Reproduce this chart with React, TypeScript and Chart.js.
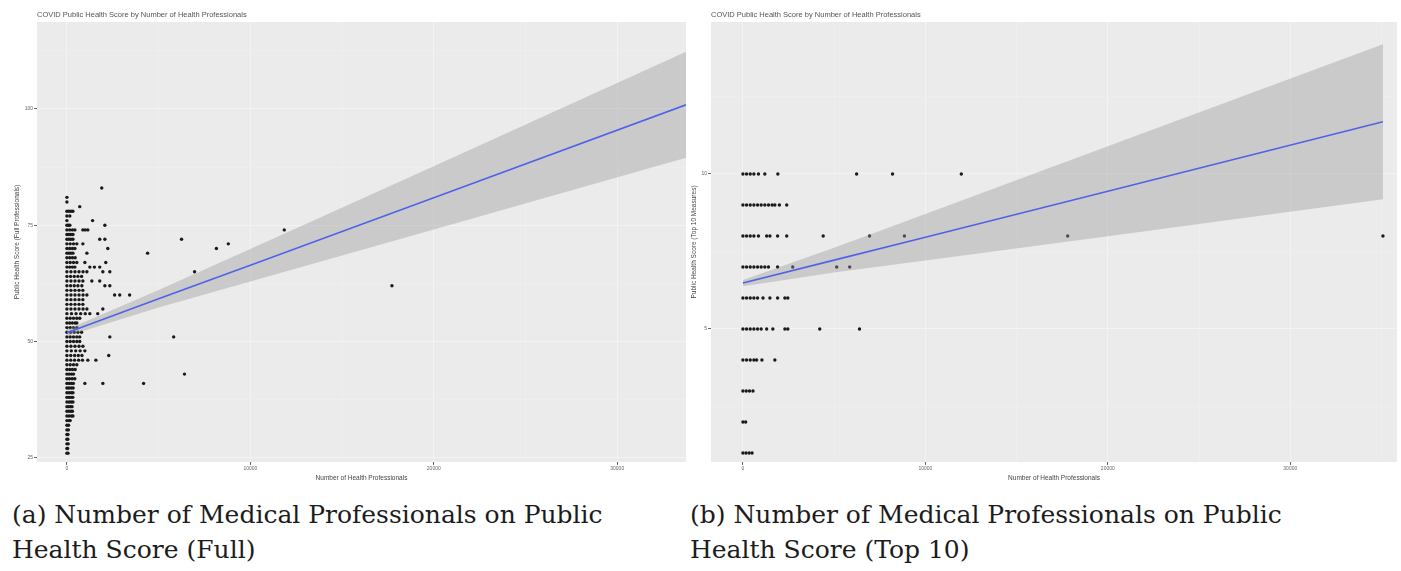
import React, { useEffect, useRef } from "react";
import { Chart, registerables } from "chart.js";
Chart.register(...registerables);

const chartTitle = "COVID Public Health Score by Number of Health Professionals";
const xAxisTitle = "Number of Health Professionals";
const fullYTitle = "Public Health Score (Full Professionals)";
const topYTitle = "Public Health Score (Top 10 Measures)";
const captionA = ["(a) Number of Medical Professionals on Public", "Health Score (Full)"];
const captionB = ["(b) Number of Medical Professionals on Public", "Health Score (Top 10)"];

const xMajorTicks = [0, 10000, 20000, 30000];
const xMinorTicks = [5000, 15000, 25000, 35000];
const fullYMajor = [25, 50, 75, 100];
const fullYMinor = [37.5, 62.5, 87.5, 112.5];
const topYMajor = [5, 10];
const topYMinor = [2.5, 7.5, 12.5];

// score -> number of health professionals (Full score)
const fullRows: [number, number[]][] = [
  [26, [0, 60]],
  [27, [0, 40]],
  [28, [0, 70]],
  [29, [0, 50]],
  [30, [0, 60]],
  [31, [0, 80]],
  [32, [0, 90]],
  [33, [0, 120, 180]],
  [34, [0, 120, 250, 330]],
  [35, [0, 110, 220, 300]],
  [36, [0, 100, 200, 280]],
  [37, [0, 120, 230, 330]],
  [38, [0, 110, 220, 320]],
  [39, [0, 120, 240, 330]],
  [40, [0, 110, 230, 340]],
  [41, [0, 130, 250, 350, 980, 1960, 4180]],
  [42, [0, 140, 290, 430]],
  [43, [0, 120, 250, 360, 6410]],
  [44, [0, 150, 300, 450]],
  [45, [0, 180, 360, 540]],
  [46, [0, 210, 420, 640, 850, 1140, 1580]],
  [47, [0, 210, 420, 620, 820, 2280]],
  [48, [0, 240, 480, 720, 980]],
  [49, [0, 220, 440, 660, 870]],
  [50, [0, 180, 360, 540, 700]],
  [51, [0, 180, 360, 540, 700, 2340, 5820]],
  [52, [0, 200, 400, 600, 800]],
  [53, [0, 180, 360, 540]],
  [54, [0, 150, 300, 450, 540]],
  [55, [0, 180, 360, 540, 700]],
  [56, [0, 250, 500, 750, 1000, 1250, 1680]],
  [57, [0, 220, 440, 660, 880, 1090, 1960]],
  [58, [0, 220, 440, 660, 870]],
  [59, [0, 220, 440, 660, 870]],
  [60, [0, 220, 440, 660, 880, 1090, 2600, 2880, 3420]],
  [61, [0, 220, 440, 660, 870]],
  [62, [0, 200, 400, 600, 815, 2070, 2340, 17720]],
  [63, [0, 220, 440, 660, 870, 1360, 1790]],
  [64, [0, 200, 400, 600, 800]],
  [65, [0, 220, 440, 660, 880, 1090, 1960, 2340, 6960]],
  [66, [0, 150, 300, 435, 1250, 1500, 1790]],
  [67, [0, 180, 360, 540, 980, 2120]],
  [68, [0, 150, 300, 450]],
  [69, [0, 110, 220, 330, 1090, 4400]],
  [70, [0, 150, 300, 435, 2230, 8150]],
  [71, [0, 180, 360, 540, 870, 8800]],
  [72, [0, 110, 220, 330, 1790, 2070, 6250]],
  [73, [0, 110, 220, 330]],
  [74, [0, 150, 300, 435, 870, 1000, 1140, 11850]],
  [75, [0, 80, 160, 2070]],
  [76, [0, 1400]],
  [77, [0, 160]],
  [78, [0, 110, 220, 326]],
  [79, [700]],
  [80, [0]],
  [81, [0]],
  [83, [1900]],
];

// score -> number of health professionals (Top 10 score)
const topRows: [number, number[]][] = [
  [10, [0, 200, 400, 600, 850, 1200, 1915, 6230, 8200, 11970]],
  [9, [0, 200, 400, 600, 800, 1000, 1200, 1400, 1600, 1750, 2000, 2400]],
  [8, [0, 200, 400, 600, 850, 1300, 1480, 1900, 2400, 4400, 6940, 8850, 17800, 35080]],
  [7, [0, 200, 400, 600, 800, 1000, 1200, 1400, 1900, 2730, 5140, 5850]],
  [6, [0, 200, 400, 600, 800, 1100, 1480, 1900, 2300, 2460]],
  [5, [0, 200, 400, 600, 800, 1000, 1300, 1640, 2300, 2460, 4210, 6390]],
  [4, [0, 200, 400, 600, 750, 1040, 1750]],
  [3, [0, 180, 360, 550]],
  [2, [0, 150]],
  [1, [0, 170, 340, 500]],
];

const fullFitX = [0, 5000, 10000, 20000, 33750];
const fullFit = [51.9, 59.2, 66.4, 80.9, 100.9];
const fullUpper = [52.6, 61.1, 69.9, 87.7, 112.3];
const fullLower = [51.2, 57.3, 62.9, 74.1, 89.5];

const topFitX = [0, 5000, 10000, 20000, 35080];
const topFit = [6.48, 7.22, 7.96, 9.44, 11.68];
const topUpper = [6.58, 7.62, 8.71, 10.89, 14.18];
const topLower = [6.38, 6.82, 7.21, 7.99, 9.18];

type PanelSpec = {
  rows: [number, number[]][];
  fitX: number[];
  fit: number[];
  upper: number[];
  lower: number[];
  xMin: number;
  xMax: number;
  yMin: number;
  yMax: number;
  yMajor: number[];
  yMinor: number[];
  yTitle: string;
  yWidth: number;
  yTitlePad: number;
};

const FONT = "'Liberation Sans', Arial, sans-serif";

function makeConfig(p: PanelSpec): any {
  const pts: { x: number; y: number }[] = [];
  p.rows.forEach(([score, xs]) => xs.forEach((x) => pts.push({ x, y: score })));
  const zip = (xs: number[], ys: number[]) => xs.map((x, i) => ({ x, y: ys[i] }));
  const isIn = (arr: number[], v: number) => arr.some((a) => Math.abs(a - v) < 1e-6);

  const tickSetter = (major: number[], minor: number[], min: number, max: number) => (scale: any) => {
    scale.ticks = [...major, ...minor]
      .filter((v) => v >= min && v <= max)
      .sort((a, b) => a - b)
      .map((v) => ({ value: v }));
  };

  const gridFor = (major: number[]) => ({
    color: (ctx: any) => (ctx.tick && isIn(major, ctx.tick.value) ? "#f3f3f3" : "#eeeeee"),
    tickColor: (ctx: any) => (ctx.tick && isIn(major, ctx.tick.value) ? "#666" : "rgba(0,0,0,0)"),
    lineWidth: 1,
    drawTicks: true,
    tickLength: 3,
  });

  const panelPlugin = {
    id: "panelBg",
    beforeDraw(chart: any) {
      const { ctx, chartArea: a } = chart;
      ctx.save();
      ctx.fillStyle = "#ebebeb";
      ctx.fillRect(a.left, a.top, a.right - a.left, a.bottom - a.top);
      ctx.restore();
    },
    afterDraw(chart: any) {
      const { ctx, chartArea: a } = chart;
      ctx.save();
      ctx.font = `7.5px ${FONT}`;
      ctx.fillStyle = "#555";
      ctx.textBaseline = "middle";
      ctx.fillText(chartTitle, a.left, 15);
      ctx.restore();
    },
  };

  return {
    type: "line",
    data: {
      datasets: [
        {
          data: zip(p.fitX, p.fit),
          borderColor: "#5062e6",
          borderWidth: 1.6,
          pointRadius: 0,
          fill: false,
          order: 1,
        },
        {
          data: zip(p.fitX, p.upper),
          borderWidth: 0,
          borderColor: "rgba(0,0,0,0)",
          pointRadius: 0,
          backgroundColor: "rgba(153,153,153,0.4)",
          fill: "+1",
          order: 2,
        },
        {
          data: zip(p.fitX, p.lower),
          borderWidth: 0,
          borderColor: "rgba(0,0,0,0)",
          pointRadius: 0,
          fill: false,
          order: 2,
        },
        {
          data: pts,
          showLine: false,
          pointRadius: 1.7,
          pointBorderWidth: 0,
          pointBackgroundColor: "#1a1a1a",
          pointBorderColor: "#1a1a1a",
          order: 3,
        },
      ],
    },
    options: {
      animation: false,
      responsive: false,
      events: [],
      layout: { padding: { top: 22, right: 2, left: 0, bottom: 0 } },
      plugins: { legend: { display: false }, tooltip: { enabled: false }, title: { display: false } },
      scales: {
        x: {
          type: "linear",
          min: p.xMin,
          max: p.xMax,
          afterBuildTicks: tickSetter(xMajorTicks, xMinorTicks, p.xMin, p.xMax),
          afterFit: (s: any) => {
            s.height = 28;
          },
          grid: gridFor(xMajorTicks),
          border: { display: false },
          ticks: {
            autoSkip: false,
            maxRotation: 0,
            padding: 1,
            color: "#666",
            font: { family: FONT, size: 5 },
            callback: (v: number) => (isIn(xMajorTicks, v) ? String(v) : ""),
          },
          title: {
            display: true,
            text: xAxisTitle,
            color: "#444",
            font: { family: FONT, size: 6.5 },
            padding: { top: 0, bottom: 8 },
          },
        },
        y: {
          type: "linear",
          min: p.yMin,
          max: p.yMax,
          afterBuildTicks: tickSetter(p.yMajor, p.yMinor, p.yMin, p.yMax),
          afterFit: (s: any) => {
            s.width = p.yWidth;
          },
          grid: gridFor(p.yMajor),
          border: { display: false },
          ticks: {
            autoSkip: false,
            padding: 1,
            color: "#666",
            font: { family: FONT, size: 5 },
            callback: (v: number) => (isIn(p.yMajor, v) ? String(v) : ""),
          },
          title: {
            display: true,
            text: p.yTitle,
            color: "#444",
            font: { family: FONT, size: 6.5 },
            padding: { top: p.yTitlePad, bottom: 0 },
          },
        },
      },
    },
    plugins: [panelPlugin],
  };
}

const captionStyle: React.CSSProperties = {
  position: "absolute",
  top: 497,
  fontFamily: "'DejaVu Serif', serif",
  fontSize: 25,
  lineHeight: "35px",
  color: "#1c1c1c",
  whiteSpace: "nowrap",
};

export default function App() {
  const leftRef = useRef<HTMLCanvasElement>(null);
  const rightRef = useRef<HTMLCanvasElement>(null);

  useEffect(() => {
    const left = new Chart(
      leftRef.current!,
      makeConfig({
        rows: fullRows,
        fitX: fullFitX,
        fit: fullFit,
        upper: fullUpper,
        lower: fullLower,
        xMin: -1630,
        xMax: 33750,
        yMin: 24.1,
        yMax: 118.7,
        yMajor: fullYMajor,
        yMinor: fullYMinor,
        yTitle: fullYTitle,
        yWidth: 37,
        yTitlePad: 13,
      })
    );
    const right = new Chart(
      rightRef.current!,
      makeConfig({
        rows: topRows,
        fitX: topFitX,
        fit: topFit,
        upper: topUpper,
        lower: topLower,
        xMin: -1750,
        xMax: 35850,
        yMin: 0.71,
        yMax: 14.9,
        yMajor: topYMajor,
        yMinor: topYMinor,
        yTitle: topYTitle,
        yWidth: 25,
        yTitlePad: 4,
      })
    );
    return () => {
      left.destroy();
      right.destroy();
    };
  }, []);

  return (
    <div style={{ position: "absolute", left: 0, top: 0, width: 1401, height: 571, background: "#fff", overflow: "hidden" }}>
      <canvas
        ref={leftRef}
        width={690}
        height={490}
        style={{ position: "absolute", left: 0, top: 0, width: 690, height: 490 }}
      />
      <canvas
        ref={rightRef}
        width={715}
        height={490}
        style={{ position: "absolute", left: 686, top: 0, width: 715, height: 490 }}
      />
      <div style={{ ...captionStyle, left: 12 }}>
        {captionA[0]}
        <br />
        {captionA[1]}
      </div>
      <div style={{ ...captionStyle, left: 690 }}>
        {captionB[0]}
        <br />
        {captionB[1]}
      </div>
    </div>
  );
}
